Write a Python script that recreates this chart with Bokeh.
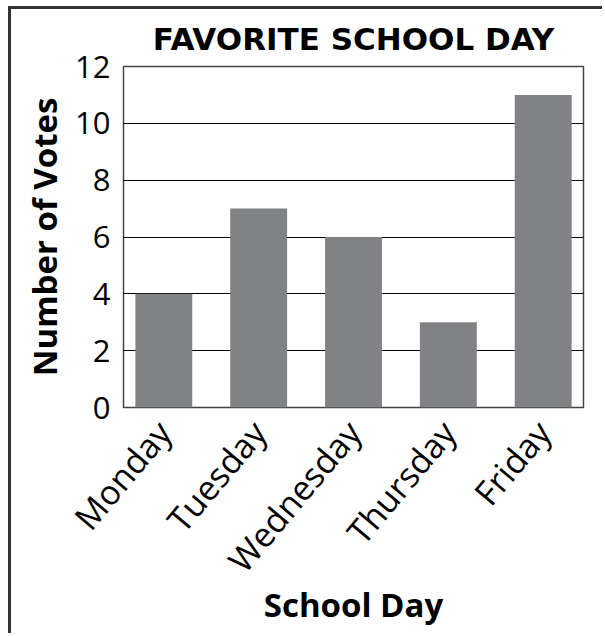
import math
from bokeh.plotting import figure
from bokeh.models import Range1d, FixedTicker
from bokeh.embed import file_html
from bokeh.resources import INLINE

days = ["Monday", "Tuesday", "Wednesday", "Thursday", "Friday"]
votes = [4, 7, 6, 3, 11]
y_ticks = [0, 2, 4, 6, 8, 10, 12]

FONT = "Open Sans"

p = figure(
    x_range=days,
    y_range=Range1d(0, 12),
    width=594, height=627,
    output_backend="svg", toolbar_location=None,
    title="FAVORITE SCHOOL DAY",
    min_border_left=112, min_border_right=22,
    min_border_top=57, min_border_bottom=229,
)
p.x_range.range_padding = -0.03

p.vbar(x=days, top=votes, width=0.6, color="#808285", line_color=None)

p.title.align = "center"
p.title.text_font = "DejaVu Sans"
p.title.text_font_style = "bold"
p.title.text_font_size = "31px"
p.title.text_color = "black"
p.title.standoff = 19

p.outline_line_color = "#444444"
p.outline_line_width = 1.5

p.xgrid.grid_line_color = None
p.ygrid.grid_line_color = "black"
p.ygrid.grid_line_width = 1
p.ygrid.grid_line_alpha = 1

p.yaxis.ticker = FixedTicker(ticks=y_ticks)
for ax in (p.xaxis[0], p.yaxis[0]):
    ax.axis_line_color = None
    ax.major_tick_line_color = None
    ax.minor_tick_line_color = None
    ax.major_label_text_font = FONT
    ax.major_label_text_color = "black"
    ax.axis_label_text_font = FONT
    ax.axis_label_text_font_style = "bold"
    ax.axis_label_text_font_size = "33px"
    ax.axis_label_text_color = "black"

p.yaxis.major_label_text_font_size = "31px"
p.xaxis.major_label_text_font_size = "34px"
p.yaxis.major_label_standoff = 7
p.xaxis.major_label_standoff = 12
p.xaxis.major_label_orientation = math.radians(50)
p.xaxis.axis_label_standoff = -17
p.xaxis.axis_label = "School Day"
p.yaxis.axis_label = "Number of Votes"

p.styles = {
    "margin-left": "8px", "margin-top": "6px",
    "border-left": "3px solid #333", "border-top": "3px solid #333",
}

open("out.html", "w").write(file_html(p, INLINE))
